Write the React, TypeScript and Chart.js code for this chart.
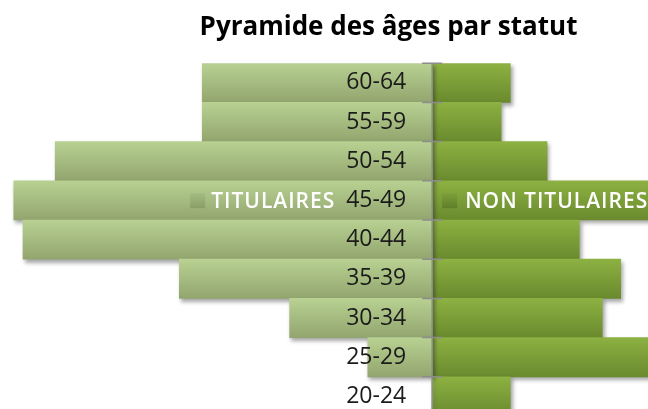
import { useEffect, useRef } from "react";
import { Chart, registerables } from "chart.js";

Chart.register(...registerables);

const categories = ["60-64", "55-59", "50-54", "45-49", "40-44", "35-39", "30-34", "25-29", "20-24"];
const titulaires = [50, 50, 82, 91, 89, 55, 31, 14, 0];
const nonTitulaires = [17, 15, 25, 52, 32, 41, 37, 50, 17];
const seriesNames = ["TITULAIRES", "NON TITULAIRES"];
const titleText = "Pyramide des âges par statut";
const xMin = -94;
const xMax = 75;

const leftColors = ["#b8d192", "#92a56e"];
const rightColors = ["#8db142", "#6a8a2e"];
const leftMarker = ["#a3bb80", "#8a9d68"];
const rightMarker = ["#7d9f3a", "#5f7e29"];

export default function App() {
  const ref = useRef<HTMLCanvasElement>(null);

  useEffect(() => {
    const canvas = ref.current!;
    const grad = (stops: string[]) => (c: any) => {
      const chart = c.chart;
      const area = chart.chartArea;
      if (!area || c.dataIndex === undefined || !chart.scales.y) return stops[0];
      const yScale = chart.scales.y;
      const center = yScale.getPixelForValue(c.dataIndex);
      const half = (area.bottom - area.top) / categories.length / 2;
      const g = chart.ctx.createLinearGradient(0, center - half, 0, center + half);
      g.addColorStop(0, stops[0]);
      g.addColorStop(1, stops[1]);
      return g;
    };

    const pyramidPlugin = {
      id: "pyramid",
      beforeDatasetsDraw(chart: any) {
        const ctx = chart.ctx;
        ctx.save();
        ctx.shadowColor = "rgba(0,0,0,0.35)";
        ctx.shadowBlur = 4;
        ctx.shadowOffsetX = 2;
        ctx.shadowOffsetY = 3;
      },
      afterDatasetsDraw(chart: any) {
        const ctx = chart.ctx;
        ctx.restore();
        const area = chart.chartArea;
        const xs = chart.scales.x;
        const ys = chart.scales.y;
        const x0 = xs.getPixelForValue(0);
        const band = (area.bottom - area.top) / categories.length;

        // axis line + cross ticks
        ctx.save();
        ctx.strokeStyle = "#8c8c8c";
        ctx.lineWidth = 1.5;
        ctx.beginPath();
        ctx.moveTo(x0, area.top);
        ctx.lineTo(x0, area.bottom);
        for (let i = 0; i <= categories.length; i++) {
          const y = area.top + i * band;
          ctx.moveTo(x0 - 10, y);
          ctx.lineTo(x0 + 10, y);
        }
        ctx.stroke();

        // category labels
        ctx.fillStyle = "#1b1b1b";
        ctx.font = '23px "Open Sans"';
        ctx.textAlign = "right";
        ctx.textBaseline = "middle";
        categories.forEach((lab, i) => {
          ctx.fillText(lab, x0 - 26, ys.getPixelForValue(i));
        });

        // legend
        const ly = area.top + 137.5;
        const drawMarker = (x: number, stops: string[]) => {
          const g = ctx.createLinearGradient(0, ly - 7.5, 0, ly + 7.5);
          g.addColorStop(0, stops[0]);
          g.addColorStop(1, stops[1]);
          ctx.fillStyle = g;
          ctx.fillRect(x, ly - 7.5, 15, 15);
        };
        drawMarker(x0 - 242, leftMarker);
        drawMarker(x0 + 10, rightMarker);
        ctx.fillStyle = "#ffffff";
        ctx.font = '600 21px "Open Sans"';
        ctx.textAlign = "left";
        (ctx as any).letterSpacing = "1px";
        ctx.fillText(seriesNames[0], x0 - 221, ly + 1);
        ctx.fillText(seriesNames[1], x0 + 33, ly + 1);
        ctx.restore();
      },
    };

    const chart = new Chart(canvas, {
      type: "bar",
      data: {
        labels: categories,
        datasets: [
          { label: seriesNames[0], data: titulaires.map((v) => -v), backgroundColor: grad(leftColors) as any },
          { label: seriesNames[1], data: nonTitulaires, backgroundColor: grad(rightColors) as any },
        ],
      },
      options: {
        indexAxis: "y",
        responsive: false,
        animation: false,
        devicePixelRatio: 1,
        layout: { padding: 0 },
        datasets: { bar: { barPercentage: 1, categoryPercentage: 1, borderWidth: 0 } },
        scales: {
          x: { stacked: true, min: xMin, max: xMax, display: false },
          y: { stacked: true, display: false },
        },
        plugins: {
          legend: { display: false },
          tooltip: { enabled: false },
          title: {
            display: true,
            text: titleText,
            color: "#000000",
            font: { family: '"Open Sans"', size: 26, weight: "bold" },
            padding: { top: 12, bottom: 20 },
          },
        },
      },
      plugins: [pyramidPlugin],
    });
    return () => chart.destroy();
  }, []);

  return (
    <div style={{ position: "fixed", left: 0, top: 0, width: 648, height: 409, overflow: "hidden", background: "#ffffff" }}>
      <canvas ref={ref} width={777} height={416} style={{ display: "block" }} />
    </div>
  );
}
